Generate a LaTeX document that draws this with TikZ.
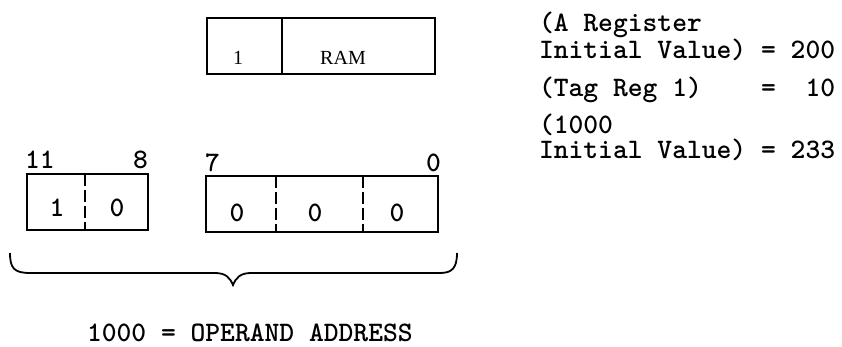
\documentclass[tikz,border=0pt]{standalone}
\usepackage{fontspec}
\newfontfamily\serifA{Liberation Serif}
\usetikzlibrary{calc}
\begin{document}
\begin{tikzpicture}[x=1pt,y=-1pt,
  regbox/.style={draw, line width=1.8pt, inner sep=0pt, outer sep=0pt, anchor=north west},
  regline/.style={line width=1.8pt},
  dashline/.style={line width=1.8pt, dash pattern=on 12pt off 4pt},
  tw/.style={font=\fontsize{28.2}{24}\selectfont\ttfamily\bfseries, inner sep=0pt, outer sep=0pt},
  sf/.style={font=\fontsize{20}{21}\selectfont\serifA, inner sep=0pt, outer sep=0pt, anchor=base}]
\useasboundingbox (0,0) rectangle (842,347);

% RAM register
\node[regbox, minimum width=228pt, minimum height=56pt] (ram) at (207,18) {};
\draw[regline] ($(ram.north west)+(75,0)$) -- ($(ram.south west)+(75,0)$);
\node[sf] (ramone) at (238,65) {1};
\node[sf] (ramtxt) at (343,65) {RAM};

% high bits box
\node[regbox, minimum width=121pt, minimum height=56pt] (hi) at (27,174) {};
\draw[dashline] ($(hi.north west)+(58,0)$) -- ($(hi.south west)+(58,0)$);
\node[tw, anchor=base] (hione) at (57,217) {1};
\node[tw, anchor=base] (hizero) at (117,217) {0};

% low bits box
\node[regbox, minimum width=232pt, minimum height=56pt] (lo) at (206,176) {};
\draw[dashline] ($(lo.north west)+(70,0)$) -- ($(lo.south west)+(70,0)$);
\draw[dashline] ($(lo.north west)+(157,0)$) -- ($(lo.south west)+(157,0)$);
\node[tw, anchor=base] (loa) at (237,222) {0};
\node[tw, anchor=base] (lob) at (315,222) {0};
\node[tw, anchor=base] (loc) at (397,222) {0};

% bit numbers
\node[tw, anchor=base west] (b11) at (25,169) {11};
\node[tw, anchor=base east] (b8) at (148,169) {8};
\node[tw, anchor=base west] (b7) at (205,172) {7};
\node[tw, anchor=base east] (b0) at (441,172) {0};

% brace
\draw[regline] (10,253) .. controls (10,268) and (14,273) .. (30,273)
  -- (215,273) .. controls (226,273) and (230,278) .. (233,285)
  .. controls (236,278) and (240,273) .. (251,273)
  -- (440,273) .. controls (452,273) and (457,268) .. (457,253);

\node[tw, anchor=base west] (opaddr) at (87,341) {1000 = OPERAND ADDRESS};

% right column
\node[tw, anchor=north west, align=left] (areg) at (539,12) {(A Register\\Initial Value) = 200};
\node[tw, anchor=base west] (tag) at (539,97) {(Tag Reg 1)~~~~=~~10};
\node[tw, anchor=north west, align=left, font=\fontsize{28.2}{25}\selectfont\ttfamily\bfseries] (mem) at (539,114) {(1000\\Initial Value) = 233};
\end{tikzpicture}
\end{document}
